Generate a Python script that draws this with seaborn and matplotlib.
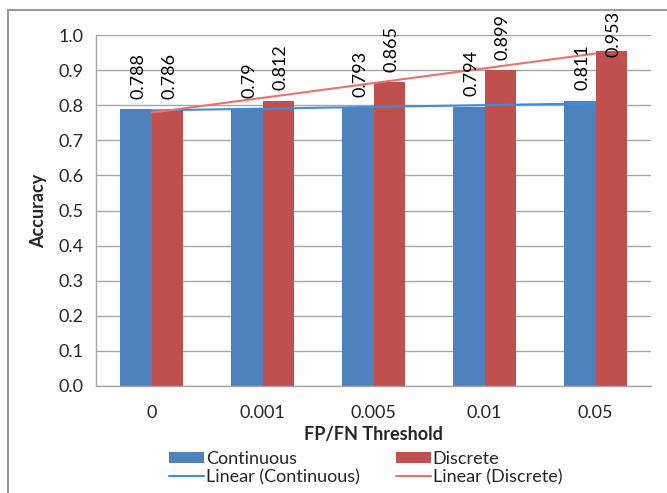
import numpy as np
import pandas as pd
import matplotlib
matplotlib.use("Agg")
import matplotlib.pyplot as plt
import seaborn as sns
from matplotlib.patches import Patch, Rectangle
from matplotlib.lines import Line2D

thresholds = ["0", "0.001", "0.005", "0.01", "0.05"]
continuous = [0.788, 0.790, 0.793, 0.794, 0.811]
discrete = [0.786, 0.812, 0.865, 0.899, 0.953]
series_names = ["Continuous", "Discrete"]
yticks = [0.0, 0.1, 0.2, 0.3, 0.4, 0.5, 0.6, 0.7, 0.8, 0.9, 1.0]

blue = "#4F81BD"
red = "#C0504D"
blue_line = "#3C8DDB"
red_line = "#E8736E"
grid_c = "#A6A6A6"

sns.set_theme(style="white")
plt.rcParams["font.family"] = ["Lato", "DejaVu Sans"]
FS = 13

df = pd.DataFrame({
    "Threshold": thresholds * 2,
    "Accuracy": continuous + discrete,
    "Series": [series_names[0]] * 5 + [series_names[1]] * 5,
})

fig = plt.figure(figsize=(6.67, 4.93), dpi=100)
ax = fig.add_axes([96 / 667, 1 - 386 / 493, (651 - 96) / 667, (386 - 35) / 493])

sns.barplot(data=df, x="Threshold", y="Accuracy", hue="Series", order=thresholds,
            hue_order=series_names, palette={series_names[0]: blue, series_names[1]: red},
            width=0.56, gap=0, saturation=1, legend=False, ax=ax, zorder=2,
            edgecolor="none", linewidth=0)

# linear trendlines
xs = np.arange(len(thresholds))
sns.regplot(x=xs, y=np.array(continuous), scatter=False, ci=None, truncate=True,
            line_kws=dict(color=blue_line, lw=1.5, zorder=4), ax=ax)
sns.regplot(x=xs, y=np.array(discrete), scatter=False, ci=None, truncate=True,
            line_kws=dict(color=red_line, lw=1.5, zorder=4), ax=ax)

# data labels
for cont in ax.containers:
    for p in cont:
        v = p.get_height()
        xc = p.get_x() + p.get_width() / 2
        ybase = min(v + 0.031, 0.937)
        ax.text(xc + 0.02, ybase, f"{v:g}", rotation=90, ha="center", va="bottom",
                fontsize=FS, color="black", clip_on=False, zorder=5)

ax.set_ylim(0, 1.0)
ax.set_xlim(-0.5, len(thresholds) - 0.5)
ax.set_yticks(yticks)
ax.set_yticklabels([f"{t:.1f}" for t in yticks], fontsize=FS)
ax.yaxis.grid(True, color=grid_c, lw=1, zorder=0)
ax.set_axisbelow(True)
for s in ["top", "right"]:
    ax.spines[s].set_visible(False)
for s in ["left", "bottom"]:
    ax.spines[s].set_color(grid_c)
    ax.spines[s].set_linewidth(1)
ax.tick_params(axis="y", which="major", direction="out", length=5, color=grid_c,
               labelsize=FS, pad=4)
ax.tick_params(axis="x", which="major", length=0, labelsize=FS, pad=14)
ax.set_xticks(np.arange(-0.5, len(thresholds), 1.0), minor=True)
ax.tick_params(axis="x", which="minor", direction="out", length=5, color=grid_c)
ax.set_xlabel("FP/FN Threshold", fontsize=FS, fontweight="bold", labelpad=3)
ax.set_ylabel("Accuracy", fontsize=FS, fontweight="bold", labelpad=8)

handles = [Patch(facecolor=blue, edgecolor="none"),
           Line2D([], [], color=blue_line, lw=1.5),
           Patch(facecolor=red, edgecolor="none"),
           Line2D([], [], color=red_line, lw=1.5)]
labels = ["Continuous", "Linear (Continuous)", "Discrete", "Linear (Discrete)"]
fig.legend(handles, labels, loc="center", bbox_to_anchor=(0.548, 0.051), ncol=2,
           frameon=False, fontsize=FS, handlelength=1.95, handleheight=0.6,
           handletextpad=0.1, columnspacing=2.0, labelspacing=0.12, borderpad=0)

fig.patches.append(Rectangle((8 / 667, -0.1), 1.2, 1.1 - 10 / 493, transform=fig.transFigure,
                             fill=False, edgecolor="#9A9A9A", lw=1.5, zorder=0))

fig.savefig("out.png", dpi=100)
